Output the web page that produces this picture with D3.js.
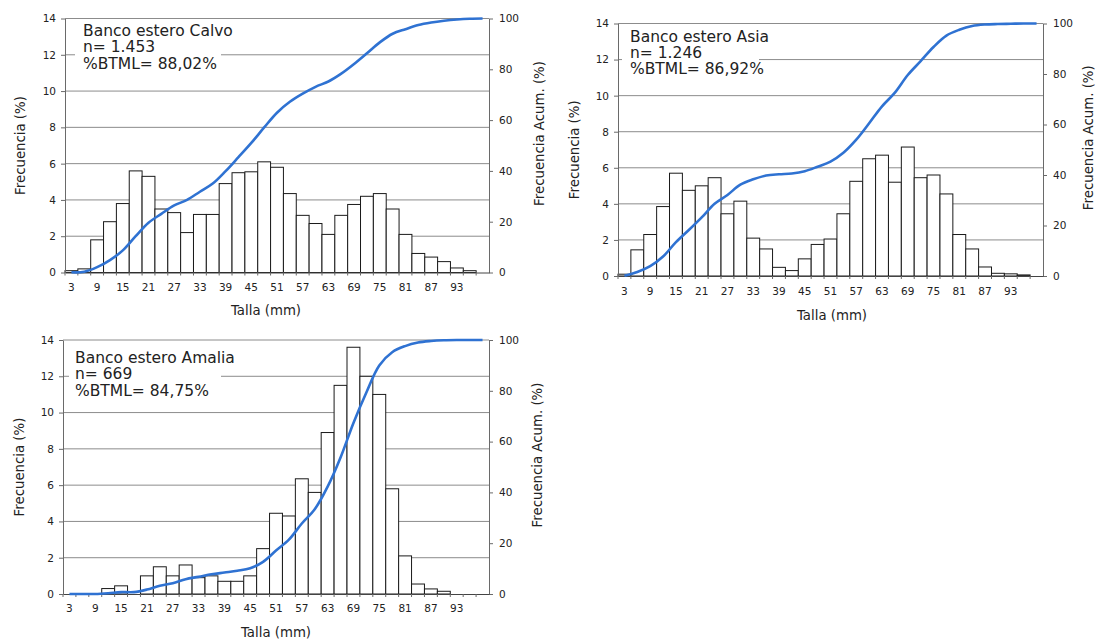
<!DOCTYPE html>
<html>
<head>
<meta charset="utf-8">
<script src="https://cdn.jsdelivr.net/npm/d3@7"></script>
<style>
  html, body { margin: 0; padding: 0; background: #ffffff; }
  svg { display: block; }
  text { font-family: "DejaVu Sans", sans-serif; fill: #222; }
</style>
</head>
<body>
<svg id="chart" width="1097" height="640"></svg>
<script>
// ---------- DATA ----------
const sizes = [3, 6, 9, 12, 15, 18, 21, 24, 27, 30, 33, 36, 39, 42, 45, 48, 51, 54, 57, 60, 63, 66, 69, 72, 75, 78, 81, 84, 87, 90, 93, 96, 99];
const xTickLabels = [3, 9, 15, 21, 27, 33, 39, 45, 51, 57, 63, 69, 75, 81, 87, 93];
const freqTicks = [0, 2, 4, 6, 8, 10, 12, 14];
const cumTicks = [0, 20, 40, 60, 80, 100];

const calvoFreq = [0.1, 0.2, 1.8, 2.8, 3.8, 5.6, 5.3, 3.5, 3.3, 2.2, 3.2, 3.2, 4.9, 5.5, 5.55, 6.1, 5.8, 4.35, 3.15, 2.7, 2.1, 3.15, 3.75, 4.2, 4.35, 3.5, 2.1, 1.05, 0.85, 0.6, 0.25, 0.1, 0];
const calvoCum  = [0.1, 0.3, 2.1, 4.9, 8.7, 14.3, 19.6, 23.1, 26.4, 28.6, 31.8, 35.0, 39.9, 45.4, 51.0, 57.1, 62.9, 67.2, 70.4, 73.1, 75.2, 78.3, 82.1, 86.3, 90.6, 94.0, 95.8, 97.4, 98.4, 99.1, 99.6, 99.9, 100];

const asiaFreq = [0.1, 1.45, 2.3, 3.85, 5.7, 4.75, 5.0, 5.45, 3.45, 4.15, 2.1, 1.5, 0.48, 0.3, 0.95, 1.75, 2.05, 3.45, 5.25, 6.5, 6.7, 5.2, 7.15, 5.45, 5.6, 4.55, 2.3, 1.5, 0.5, 0.15, 0.12, 0.06, 0];
const asiaCum  = [0.1, 1.6, 3.9, 7.7, 13.4, 18.2, 23.2, 28.6, 32.1, 36.2, 38.3, 39.8, 40.3, 40.6, 41.5, 43.3, 45.3, 48.8, 54.0, 60.5, 67.2, 72.6, 79.6, 85.1, 90.7, 95.2, 97.5, 99.0, 99.6, 99.8, 99.9, 100, 100];

const amaliaFreq = [0, 0, 0, 0.3, 0.45, 0, 1.0, 1.5, 1.0, 1.6, 0.9, 1.0, 0.7, 0.7, 1.0, 2.5, 4.45, 4.3, 6.35, 5.6, 8.9, 11.5, 13.6, 12.0, 11.0, 5.8, 2.1, 0.55, 0.28, 0.15, 0, 0, 0];
const amaliaCum  = [0, 0, 0, 0.3, 0.75, 0.75, 1.75, 3.25, 4.25, 5.85, 6.75, 7.75, 8.45, 9.15, 10.15, 12.65, 17.1, 21.4, 27.75, 33.35, 42.25, 53.75, 67.35, 79.35, 90.0, 95.2, 97.6, 99.0, 99.6, 99.9, 100, 100, 100];

const calvoNote  = ["Banco estero Calvo", "n= 1.453", "%BTML= 88,02%"];
const asiaNote   = ["Banco estero Asia", "n= 1.246", "%BTML= 86,92%"];
const amaliaNote = ["Banco estero Amalia", "n= 669", "%BTML= 84,75%"];

const yTitle = "Frecuencia (%)";
const y2Title = "Frecuencia Acum. (%)";
const xTitle = "Talla (mm)";

// ---------- LAYOUT ----------
const panels = [
  { freq: calvoFreq, cum: calvoCum, note: calvoNote,
    x0: 65, x1: 489, yt: 18.5, yb: 272.5,
    noteX: 83, noteY: 36, box: [75, 21, 146, 53],
    yTitleX: 20, y2TitleX: 539, xLabY: 291, xTitleX: 266, xTitleY: 315 },
  { freq: asiaFreq, cum: asiaCum, note: asiaNote,
    x0: 618, x1: 1043, yt: 23.5, yb: 276,
    noteX: 630, noteY: 41.5, box: [622, 26, 137, 53],
    yTitleX: 574, y2TitleX: 1088, xLabY: 295, xTitleX: 832, xTitleY: 320 },
  { freq: amaliaFreq, cum: amaliaCum, note: amaliaNote,
    x0: 63, x1: 489, yt: 340, yb: 594,
    noteX: 75, noteY: 363, box: [69, 344, 152, 53],
    yTitleX: 19, y2TitleX: 537, xLabY: 612, xTitleX: 276, xTitleY: 637 }
];

const svg = d3.select("#chart");
const gridColor = "#8c8c8c";
const axisColor = "#6a6a6a";
const lineColor = "#2f72d2";

panels.forEach(p => {
  const g = svg.append("g");
  const x = d3.scaleBand().domain(sizes).range([p.x0, p.x1]).padding(0);
  const y = d3.scaleLinear().domain([0, 14]).range([p.yb, p.yt]);
  const y2 = d3.scaleLinear().domain([0, 100]).range([p.yb, p.yt]);

  // gridlines
  g.append("g").selectAll("line").data(freqTicks.filter(t => t > 0)).join("line")
    .attr("x1", p.x0).attr("x2", p.x1)
    .attr("y1", d => y(d)).attr("y2", d => y(d))
    .attr("stroke", gridColor).attr("stroke-width", 1);

  // annotation box (white) hides gridline
  g.append("rect")
    .attr("x", p.box[0]).attr("y", p.box[1])
    .attr("width", p.box[2]).attr("height", p.box[3])
    .attr("fill", "#fff");

  // bars
  g.append("g").selectAll("rect").data(sizes.map((s, i) => ({ s, v: p.freq[i] })).filter(d => d.v > 0))
    .join("rect")
    .attr("x", d => x(d.s)).attr("width", x.bandwidth())
    .attr("y", d => y(d.v)).attr("height", d => y(0) - y(d.v))
    .attr("fill", "#fff").attr("stroke", "#1a1a1a").attr("stroke-width", 1);

  // left axis
  const la = g.append("g").attr("transform", `translate(${p.x0},0)`)
    .call(d3.axisLeft(y).tickValues(freqTicks).tickSize(4).tickPadding(5).tickSizeOuter(0));
  la.select(".domain").attr("stroke", axisColor);
  la.selectAll(".tick line").attr("stroke", axisColor);
  la.selectAll(".tick text").style("font-size", "10.5px").style("font-family", "DejaVu Sans").attr("fill", "#222");

  // right axis
  const ra = g.append("g").attr("transform", `translate(${p.x1},0)`)
    .call(d3.axisRight(y2).tickValues(cumTicks).tickSize(4).tickPadding(6).tickSizeOuter(0));
  ra.select(".domain").attr("stroke", axisColor);
  ra.selectAll(".tick line").attr("stroke", axisColor);
  ra.selectAll(".tick text").style("font-size", "10.5px").style("font-family", "DejaVu Sans").attr("fill", "#222");

  // bottom axis: baseline + boundary ticks + labels
  const ba = g.append("g").attr("transform", `translate(0,${p.yb})`)
    .call(d3.axisBottom(x).tickValues(xTickLabels).tickSize(0).tickPadding(0).tickSizeOuter(0));
  ba.select(".domain").attr("stroke", "#444");
  ba.selectAll(".tick text").style("font-size", "10.5px").style("font-family", "DejaVu Sans")
    .attr("fill", "#222").attr("dy", null).attr("y", p.xLabY - p.yb);
  g.append("g").selectAll("line").data(sizes).join("line")
    .attr("x1", d => x(d)).attr("x2", d => x(d))
    .attr("y1", p.yb).attr("y2", p.yb + 3)
    .attr("stroke", axisColor);

  // cumulative curve
  const line = d3.line()
    .x((d, i) => x(sizes[i]) + x.bandwidth() / 2)
    .y(d => y2(d))
    .curve(d3.curveCatmullRom.alpha(0.5));
  g.append("path").datum(p.cum).attr("d", line)
    .attr("fill", "none").attr("stroke", lineColor).attr("stroke-width", 2.6)
    .attr("stroke-linejoin", "round");

  // annotation text
  g.append("g").selectAll("text").data(p.note).join("text")
    .attr("x", p.noteX).attr("y", (d, i) => p.noteY + i * 16.3)
    .style("font-size", "15.5px").text(d => d);

  // axis titles
  const midY = (p.yt + p.yb) / 2;
  g.append("text").attr("transform", `translate(${p.yTitleX},${midY}) rotate(-90)`)
    .attr("text-anchor", "middle").attr("dy", "0.35em")
    .style("font-size", "13.3px").text(yTitle);
  g.append("text").attr("transform", `translate(${p.y2TitleX},${midY - 12}) rotate(-90)`)
    .attr("text-anchor", "middle").attr("dy", "0.35em")
    .style("font-size", "13.3px").text(y2Title);
  g.append("text").attr("x", p.xTitleX).attr("y", p.xTitleY)
    .attr("text-anchor", "middle").style("font-size", "13.3px").text(xTitle);
});
</script>
</body>
</html>
